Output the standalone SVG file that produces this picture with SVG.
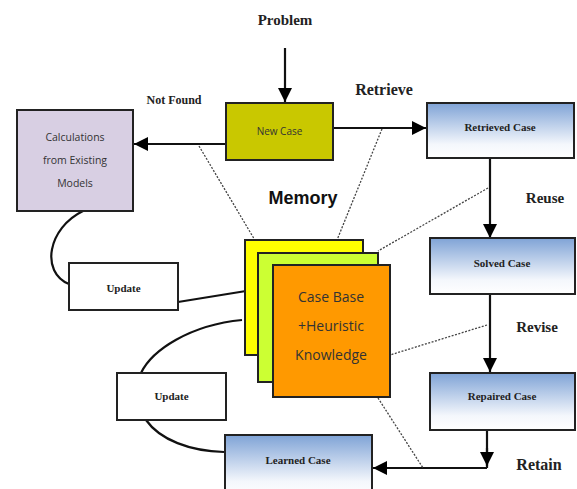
<svg xmlns="http://www.w3.org/2000/svg" width="577" height="489" viewBox="0 0 577 489">
<defs>
<linearGradient id="blue" x1="0" y1="0" x2="0" y2="1">
<stop offset="0" stop-color="#7fa3d6"/>
<stop offset="0.75" stop-color="#f4f7fc"/>
<stop offset="1" stop-color="#ffffff"/>
</linearGradient>
<marker id="ah" viewBox="0 0 10 10" refX="10" refY="5" markerWidth="14" markerHeight="14" markerUnits="userSpaceOnUse" orient="auto">
<path d="M0,0 L10,5 L0,10 z" fill="#000"/>
</marker>
<style>
.lbl{font-family:"Liberation Serif",serif;font-weight:bold;fill:#222;}
.box{stroke:#222;stroke-width:2;}
.bt{font-family:"Liberation Serif",serif;font-weight:bold;font-size:11px;fill:#222;text-anchor:middle;}
.st{font-family:"Open Sans","Liberation Sans",sans-serif;fill:#333;text-anchor:middle;}
.line{stroke:#111;stroke-width:2.2;fill:none;}
.dot{stroke:#444;stroke-width:1.3;stroke-dasharray:2 1.5;fill:none;}
</style>
</defs>
<rect width="577" height="489" fill="#fff"/>

<g id="labels">
<text class="lbl" x="285" y="25" font-size="15" text-anchor="middle">Problem</text>
<text class="lbl" x="174" y="104" font-size="12" text-anchor="middle">Not Found</text>
<text class="lbl" x="384" y="95" font-size="16" text-anchor="middle">Retrieve</text>
<text class="lbl" x="545" y="203" font-size="15" text-anchor="middle">Reuse</text>
<text class="lbl" x="537" y="332" font-size="15" text-anchor="middle">Revise</text>
<text class="lbl" x="539" y="470" font-size="16" text-anchor="middle">Retain</text>
<text x="303" y="204" font-family="Liberation Sans, sans-serif" font-weight="bold" font-size="18" fill="#111" text-anchor="middle">Memory</text>
</g>

<g id="connectors">
<line class="line" x1="285" y1="48" x2="285" y2="102" marker-end="url(#ah)"/>
<line class="line" x1="226" y1="144" x2="134" y2="144" marker-end="url(#ah)"/>
<line class="line" x1="333" y1="128" x2="426" y2="128" marker-end="url(#ah)"/>
<line class="line" x1="490" y1="159" x2="490" y2="238" marker-end="url(#ah)"/>
<line class="line" x1="490" y1="295" x2="490" y2="372" marker-end="url(#ah)"/>
<line class="line" x1="487" y1="431" x2="487" y2="468"/>
<path class="line" d="M487,448 L487,466"  marker-end="url(#ah)"/>
<line class="line" x1="487" y1="468" x2="373" y2="468" marker-end="url(#ah)"/>
<path class="line" d="M83,211 C48,228 40,272 69,284"/>
<path class="line" d="M178,302 L246,291"/>
<path class="line" d="M242,320 C190,325 152,350 141,373"/>
<path class="line" d="M146,420 C160,440 190,451 224,452"/>
<line class="dot" x1="199" y1="146" x2="256" y2="242"/>
<line class="dot" x1="382" y1="129" x2="337" y2="240"/>
<line class="dot" x1="488" y1="188" x2="378" y2="251"/>
<line class="dot" x1="487" y1="325" x2="390" y2="355"/>
<line class="dot" x1="378" y1="398" x2="423" y2="468"/>
</g>

<g id="new-case">
<rect class="box" x="226" y="103" width="107" height="57" fill="#c9c800"/>
<text x="279.5" y="135" font-family="Open Sans, Liberation Sans, sans-serif" font-size="10" fill="#333" text-anchor="middle">New Case</text>
</g>

<g id="calculations">
<rect class="box" x="17" y="110" width="116" height="101" fill="#d8cfe3"/>
<text class="st" font-size="10.5"><tspan x="75" y="141">Calculations</tspan><tspan x="75" y="164">from Existing</tspan><tspan x="75" y="187">Models</tspan></text>
</g>

<g id="retrieved-case">
<rect class="box" x="427" y="103" width="147" height="55" fill="url(#blue)"/>
<text class="bt" x="500" y="131">Retrieved  Case</text>
</g>

<g id="solved-case">
<rect class="box" x="430" y="238" width="145" height="56" fill="url(#blue)"/>
<text class="bt" x="502" y="267">Solved Case</text>
</g>

<g id="repaired-case">
<rect class="box" x="430" y="373" width="145" height="57" fill="url(#blue)"/>
<text class="bt" x="502" y="400">Repaired  Case</text>
</g>

<g id="learned-case">
<rect class="box" x="225" y="435" width="147" height="62" fill="url(#blue)"/>
<text class="bt" x="298" y="464">Learned Case</text>
</g>

<g id="update-1">
<rect class="box" x="69" y="263" width="109" height="47" fill="#fff"/>
<text class="bt" x="123.5" y="292">Update</text>
</g>

<g id="update-2">
<rect class="box" x="117" y="373" width="109" height="47" fill="#fff"/>
<text class="bt" x="171.5" y="400">Update</text>
</g>

<g id="memory-stack">
<rect class="box" x="245" y="240" width="118" height="115" fill="#ffff00"/>
<rect class="box" x="258" y="253" width="120" height="129" fill="#ccff33"/>
<rect class="box" x="273" y="265" width="117" height="132" fill="#ff9900"/>
<text class="st" font-size="14"><tspan x="331" y="302">Case Base</tspan><tspan x="331" y="331">+Heuristic</tspan><tspan x="331" y="360">Knowledge</tspan></text>
</g>
</svg>
